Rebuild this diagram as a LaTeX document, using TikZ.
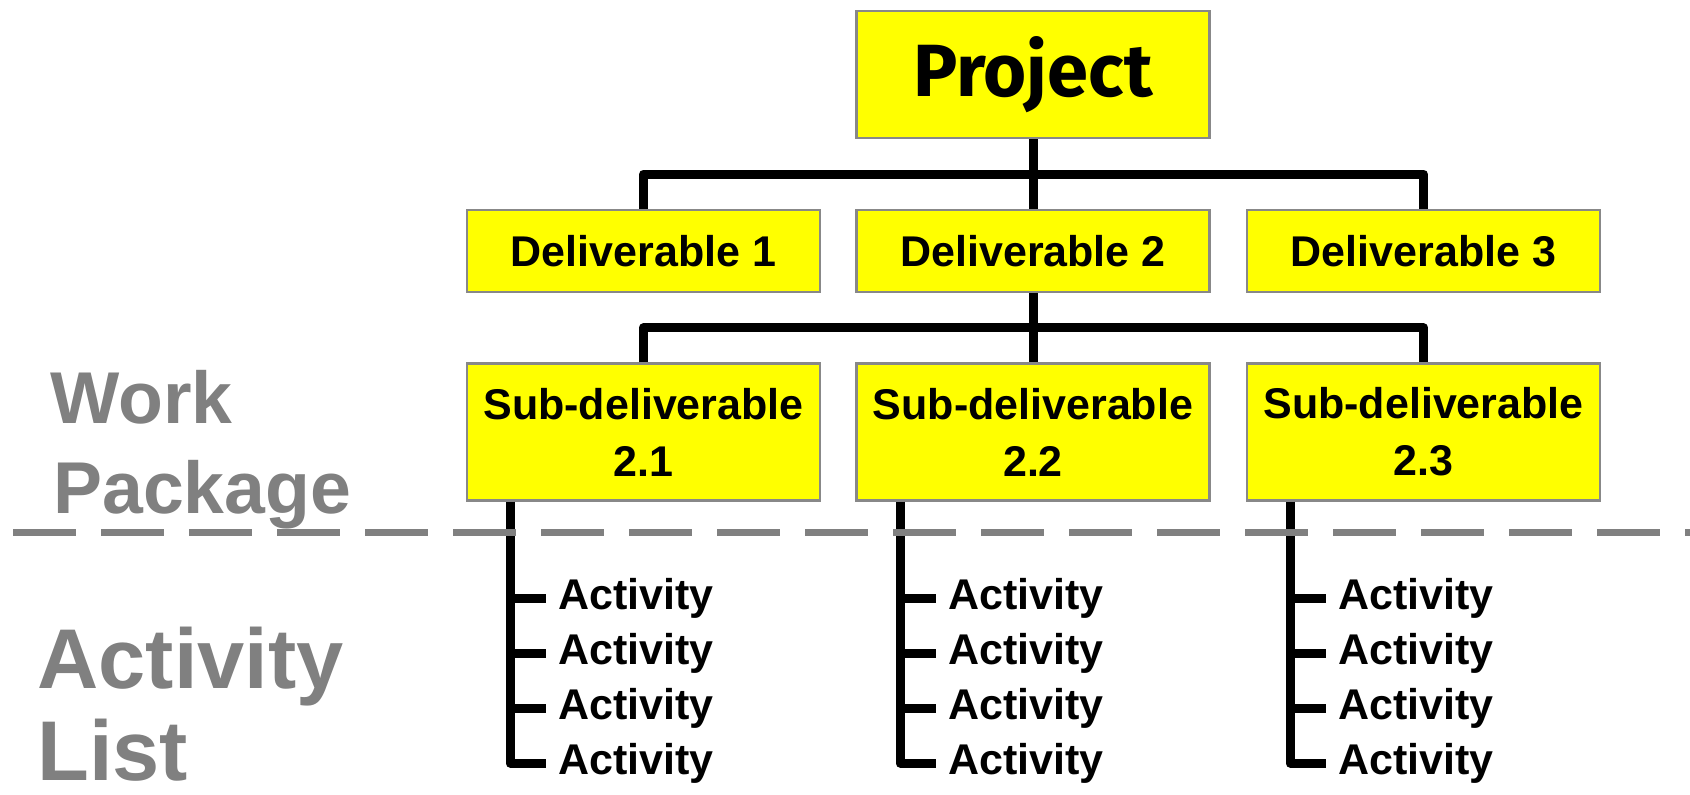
\documentclass[tikz,border=0pt]{standalone}
\usepackage{fontspec}
\setmainfont{Liberation Sans}
\newfontfamily\projfont{Fira Sans}
\usepackage{tikz}
\usetikzlibrary{calc}
\definecolor{boxyellow}{RGB}{255,255,0}
\definecolor{labelgray}{RGB}{128,128,128}
\definecolor{boxline}{RGB}{136,136,136}
\begin{document}
\begin{tikzpicture}[x=0.5pt,y=-0.5pt,
		wbs/.style={draw=boxline, line width=1.2pt, fill=boxyellow, minimum width=176.5pt, inner sep=0pt, align=center, font=\bfseries\fontsize{21.5}{28.5}\selectfont},
		conn/.style={line width=4.5pt, black, line join=round},
		act/.style={anchor=west, inner ysep=0pt, inner xsep=6pt, font=\bfseries\fontsize{21.5}{25}\selectfont},
		side/.style={anchor=base west, inner sep=0pt, text=labelgray, font=\bfseries\fontsize{36.7}{44}\selectfont}]
		\useasboundingbox (0,0) rectangle (1690,794);
		\node[wbs, minimum height=63.5pt, font=\projfont\bfseries\fontsize{37}{40}\selectfont] (proj) at (1033,74.5) {Project};
		\foreach \i/\x in {1/643.5,2/1033,3/1423.5}
			\node[wbs, minimum height=41pt] (d\i) at (\x,251) {Deliverable \i};
		\foreach \i/\x in {1/643.5,2/1033,3/1423.5}
			\node[wbs, minimum height=68.5pt] (s\i) at (\x,432) {Sub-deliverable\\2.\i};
		\draw[conn] (proj.south) -- (d2.north);
		\draw[conn] (d1.north) |- ($(proj.south)!.5!(d2.north)$) -| (d3.north);
		\draw[conn] (d2.south) -- (s2.north);
		\draw[conn] (s1.north) |- ($(d2.south)!.5!(s2.north)$) -| (s3.north);
		\foreach \i/\x in {1/510,2/900,3/1290} {
			\coordinate (t\i) at (\x,0);
			\foreach \j/\y in {1/598,2/653,3/708,4/763}
				\node[act] (a\i\j) at (\x+36,\y) {Activity};
			\draw[conn] (s\i.south -| t\i) -- (t\i |- a\i4.west) -- (a\i4.west);
			\foreach \j in {1,2,3}
				\draw[conn] (t\i |- a\i\j.west) -- (a\i\j.west);
		}
		\coordinate (divL) at (13,532);
		\coordinate (divR) at (1690,532);
		\draw[labelgray, line width=3.5pt, dash pattern=on 31.5pt off 12.5pt] (divL) -- (divR);
		\node[side] (wp1) at (50,423) {Work};
		\node[side] (wp2) at (53,513) {Package};
		\node[side, font=\bfseries\fontsize{42.4}{50}\selectfont] (al1) at (37,688) {Activity};
		\node[side, font=\bfseries\fontsize{42.4}{50}\selectfont] (al2) at (37,780) {List};
	\end{tikzpicture}
\end{document}
